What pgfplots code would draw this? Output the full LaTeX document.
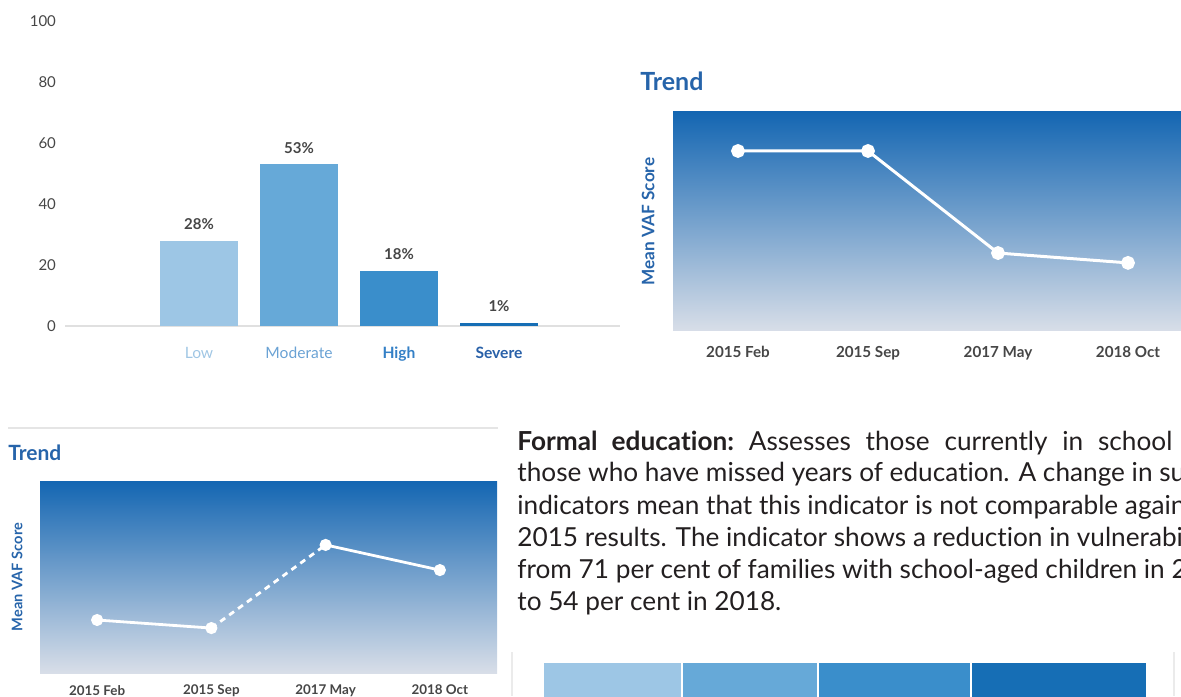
\documentclass[border=0pt]{standalone}
\usepackage{pgfplots}
\pgfplotsset{compat=1.18}
\usepackage{fontspec}
\setmainfont{Lato}[Ligatures=NoCommon]
\definecolor{cLow}{RGB}{157,198,229}
\definecolor{cMod}{RGB}{102,169,216}
\definecolor{cHigh}{RGB}{58,142,203}
\definecolor{cSev}{RGB}{22,110,181}
\definecolor{tLow}{RGB}{160,198,228}
\definecolor{tMod}{RGB}{106,162,212}
\definecolor{tHigh}{RGB}{52,128,198}
\definecolor{tSev}{RGB}{40,96,168}
\definecolor{ttl}{RGB}{38,100,170}
\definecolor{gTop}{RGB}{20,102,178}
\definecolor{gBot}{RGB}{216,222,232}
\definecolor{txt}{RGB}{35,31,32}
\definecolor{tick}{RGB}{70,70,70}
\begin{document}
\begin{tikzpicture}
\path[use as bounding box] (0,0) rectangle (590.5pt,348pt);
% ---------- bar chart ----------
\begin{axis}[
  at={(32.5pt,185pt)}, anchor=south west, scale only axis,
  width=277.5pt, height=152.5pt,
  xmin=-1.34, xmax=4.21, ymin=0, ymax=100,
  axis line style={draw=none}, major tick length=0pt,
  ytick={0,20,40,60,80,100},
  yticklabel style={font=\fontsize{7.5}{8}\selectfont, text=tick, xshift=-1pt},
  /pgf/number format/assume math mode=true,
  extra y ticks={0}, extra y tick labels={},
  extra y tick style={grid=major, major grid style={draw=black!12, line width=0.6pt}},
  xtick={0,1,2,3},
  xticklabels={\textcolor{tLow}{Low},\textcolor{tMod}{Moderate},\textcolor{tHigh}{\bfseries High},\textcolor{tSev}{\bfseries Severe}},
  xticklabel style={font=\fontsize{7.8}{9}\selectfont, yshift=-7pt},
  ybar, bar width=39pt, bar shift=0pt,
  nodes near coords={\pgfmathprintnumber{\pgfplotspointmeta}\%},
  every node near coord/.append style={font=\bfseries\fontsize{7.5}{8}\selectfont, text=tick, yshift=2pt},
]
\addplot[fill=cLow, draw=none] coordinates {(0,28)};
\addplot[fill=cMod, draw=none] coordinates {(1,53)};
\addplot[fill=cHigh, draw=none] coordinates {(2,18)};
\addplot[fill=cSev, draw=none] coordinates {(3,1)};
\end{axis}
% ---------- trend 1 ----------
\node[anchor=west, inner sep=0pt, text=ttl, font=\bfseries\fontsize{12.5}{14}\selectfont] at (320pt,307.5pt) {Trend};
\begin{axis}[
  at={(336.5pt,182.5pt)}, anchor=south west, scale only axis,
  width=260pt, height=109.5pt,
  xmin=-0.5, xmax=3.5, ymin=0, ymax=100,
  axis line style={draw=none}, major tick length=0pt,
  axis background/.style={top color=gTop, bottom color=gBot},
  ytick=\empty,
  ylabel={\bfseries Mean VAF Score},
  every axis y label/.style={at={(axis description cs:-0.048,0.5)}, rotate=90, anchor=center, text=ttl, font=\fontsize{8.6}{9}\selectfont},
  xtick={0,1,2,3}, xticklabels={2015 Feb,2015 Sep,2017 May,2018 Oct},
  xticklabel style={font=\bfseries\fontsize{7.6}{9}\selectfont, text=tick, yshift=-4pt},
]
\addplot[white, line width=1.5pt, mark=*, mark size=2.7pt, mark options={fill=white, draw=white}] coordinates {(0,82.2) (1,82.2) (2,35.6) (3,31.1)};
\end{axis}
% ---------- trend 2 ----------
\draw[black!10, line width=0.6pt] (4pt,134pt) -- (249pt,134pt);
\node[anchor=west, inner sep=0pt, text=ttl, font=\bfseries\fontsize{10.5}{12}\selectfont] at (4pt,121.5pt) {Trend};
\begin{axis}[
  at={(20pt,11.5pt)}, anchor=south west, scale only axis,
  width=228.5pt, height=96pt,
  xmin=-0.5, xmax=3.5, ymin=0, ymax=100,
  axis line style={draw=none}, major tick length=0pt,
  axis background/.style={top color=gTop, bottom color=gBot},
  ytick=\empty,
  ylabel={\bfseries Mean VAF Score},
  every axis y label/.style={at={(axis description cs:-0.05,0.5)}, rotate=90, anchor=center, text=ttl, font=\fontsize{7.3}{8}\selectfont},
  xtick={0,1,2,3}, xticklabels={2015 Feb,2015 Sep,2017 May,2018 Oct},
  xticklabel style={font=\bfseries\fontsize{6.7}{8}\selectfont, text=tick, yshift=-2.5pt},
]
\addplot[white, line width=1.4pt, mark=*, mark size=2.3pt, mark options={fill=white, draw=white}] coordinates {(0,27.6) (1,23.4)};
\addplot[white, line width=1.4pt, dash pattern=on 3pt off 2.5pt] coordinates {(1,23.4) (2,66.7)};
\addplot[white, line width=1.4pt, mark=*, mark size=2.3pt, mark options={fill=white, draw=white, solid}] coordinates {(2,66.7) (3,53.6)};
\end{axis}
% ---------- paragraph ----------
\begin{scope}[every node/.style={anchor=base west, inner sep=0pt, text=txt, font=\fontsize{13.1}{15}\selectfont}]
\node at (258.5pt,123pt) {\makebox[327.5pt][s]{\bfseries Formal education:\mdseries\ Assesses those currently in school}};
\node at (258.5pt,107pt) {those who have missed years of education. A change in survey};
\node at (258.5pt,91pt) {indicators mean that this indicator is not comparable against};
\node at (258.5pt,75pt) {2015 results. The indicator shows a reduction in vulnerability};
\node at (258.5pt,59pt) {from 71 per cent of families with school-aged children in 2017};
\node at (258.5pt,43pt) {to 54 per cent in 2018.};
\end{scope}
% ---------- stacked bar ----------
\draw[black!8, line width=0.6pt] (256pt,0pt) -- (256pt,22pt);
\draw[black!8, line width=0.6pt] (587pt,0pt) -- (587pt,22pt);
\begin{axis}[
  at={(271.5pt,-13pt)}, anchor=south west, scale only axis,
  width=302pt, height=30pt,
  xmin=0, xmax=100, ymin=0, ymax=1,
  axis lines=none,
  xbar stacked, bar width=30pt,
]
\addplot[fill=cLow, draw=white, line width=1pt] coordinates {(23,0.5)};
\addplot[fill=cMod, draw=white, line width=1pt] coordinates {(22.6,0.5)};
\addplot[fill=cHigh, draw=white, line width=1pt] coordinates {(25.2,0.5)};
\addplot[fill=cSev, draw=white, line width=1pt] coordinates {(29.2,0.5)};
\end{axis}
\end{tikzpicture}
\end{document}
